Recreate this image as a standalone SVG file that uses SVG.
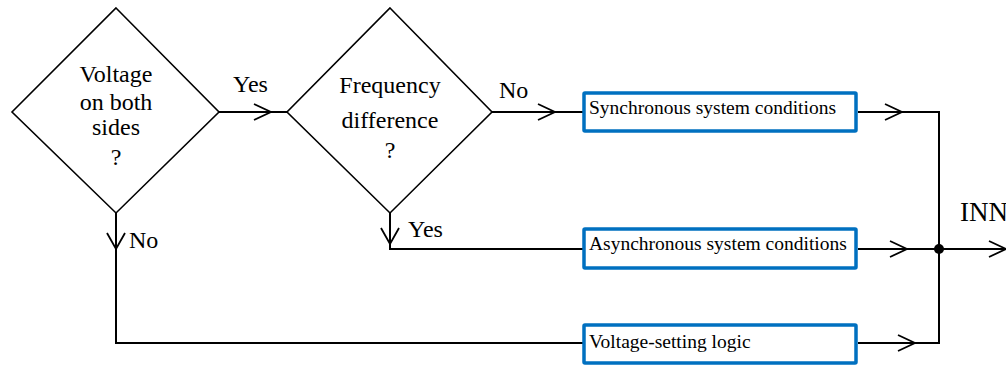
<svg xmlns="http://www.w3.org/2000/svg" width="1006" height="365" viewBox="0 0 1006 365">
  <style>
    .dec { fill: #ffffff; stroke: #000000; stroke-width: 1.6; }
    .box { fill: #ffffff; stroke: #0070C0; stroke-width: 3.5; }
    .wire { fill: none; stroke: #000000; stroke-width: 2; }
    .head { fill: none; stroke: #000000; stroke-width: 1.8; }
    .big { font-family: "Liberation Serif", "Times New Roman", serif; font-size: 24px; fill: #000000; }
    .mid { font-family: "Liberation Serif", "Times New Roman", serif; font-size: 19.5px; fill: #000000; }
  </style>

  <!-- connectors -->
  <g id="connectors">
    <!-- decision 1 Yes -> decision 2 -->
    <path class="wire" d="M219 112 H287"/>
    <path class="head" d="M254 104 L271 112 L254 120"/>
    <text class="big" x="233" y="92">Yes</text>

    <!-- decision 2 No -> synchronous -->
    <path class="wire" d="M492 112 H584"/>
    <path class="head" d="M538 104 L555 112 L538 120"/>
    <text class="big" x="499" y="98">No</text>

    <!-- decision 2 Yes -> asynchronous -->
    <path class="wire" d="M390 213 V249 H584"/>
    <path class="head" d="M381 228 L390 244 L399 228"/>
    <text class="big" x="408" y="237">Yes</text>

    <!-- decision 1 No -> voltage-setting -->
    <path class="wire" d="M116 213 V343 H584"/>
    <path class="head" d="M107 233 L116 249 L125 233"/>
    <text class="big" x="129" y="248">No</text>

    <!-- outputs to the collecting bus -->
    <path class="wire" d="M858 112 H939 V343 H858"/>
    <path class="head" d="M885 104 L902 112 L885 120"/>
    <path class="wire" d="M858 249 H1006"/>
    <path class="head" d="M890 241 L907 249 L890 257"/>
    <path class="head" d="M898 335 L915 343 L898 351"/>
    <circle cx="939" cy="249" r="5" fill="#000000"/>
    <path class="head" d="M989 241 L1006 249 L989 257"/>
    <text class="big" x="960" y="221" style="font-size:27px">INN</text>
  </g>

  <!-- decision: voltage on both sides -->
  <g id="decision-voltage">
    <polygon class="dec" points="116,8 219,112 116,213 12,112"/>
    <text class="big" text-anchor="middle" x="116" y="82">Voltage</text>
    <text class="big" text-anchor="middle" x="116" y="110">on both</text>
    <text class="big" text-anchor="middle" x="116" y="135">sides</text>
    <text class="big" text-anchor="middle" x="116" y="165">?</text>
  </g>

  <!-- decision: frequency difference -->
  <g id="decision-frequency">
    <polygon class="dec" points="390,8 492,112 390,213 287,112"/>
    <text class="big" text-anchor="middle" x="390" y="93">Frequency</text>
    <text class="big" text-anchor="middle" x="390" y="128">difference</text>
    <text class="big" text-anchor="middle" x="390" y="158">?</text>
  </g>

  <!-- process boxes -->
  <g id="box-synchronous">
    <rect class="box" x="584" y="93" width="272" height="38" rx="1"/>
    <text class="mid" x="589" y="114">Synchronous system conditions</text>
  </g>
  <g id="box-asynchronous">
    <rect class="box" x="584" y="229" width="272" height="39" rx="1"/>
    <text class="mid" x="589" y="250">Asynchronous system conditions</text>
  </g>
  <g id="box-voltage-setting">
    <rect class="box" x="584" y="325" width="272" height="38" rx="1"/>
    <text class="mid" x="589" y="348">Voltage-setting logic</text>
  </g>
</svg>
